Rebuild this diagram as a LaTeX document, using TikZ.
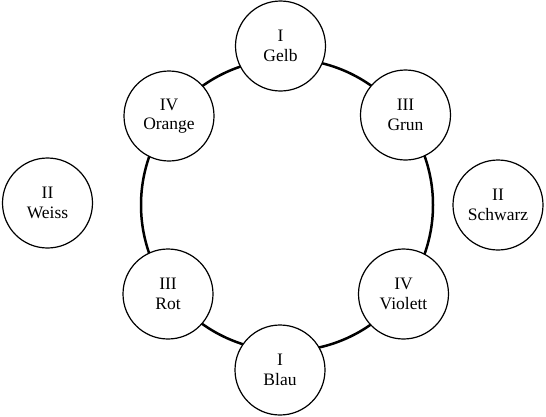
\documentclass[tikz,border=0pt]{standalone}
\usepackage{fontspec}
\setmainfont{Liberation Serif}
\begin{document}
\begin{tikzpicture}[x=1pt,y=-1pt,
  colnode/.style={circle,draw=black,line width=1.2pt,fill=white,minimum size=90pt,inner sep=0pt,align=center,font=\fontsize{17.5}{19.5}\selectfont},
  ring/.style={draw=black,line width=2.5pt}]
\useasboundingbox (0,0) rectangle (546,416);
\coordinate (c) at (287,205);
\draw[ring] (c) circle[radius=146pt];
\node[colnode] (gelb) at (280.5,46) {I\\Gelb};
\node[colnode] (orange) at (169,116) {IV\\Orange};
\node[colnode] (grun) at (405.5,115) {III\\Grun};
\node[colnode] (rot) at (168,294) {III\\Rot};
\node[colnode] (violett) at (403.5,294) {IV\\Violett};
\node[colnode] (blau) at (280,370) {I\\Blau};
\node[colnode] (weiss) at (47.5,203) {II\\Weiss};
\node[colnode] (schwarz) at (498,205) {II\\Schwarz};
\end{tikzpicture}
\end{document}
